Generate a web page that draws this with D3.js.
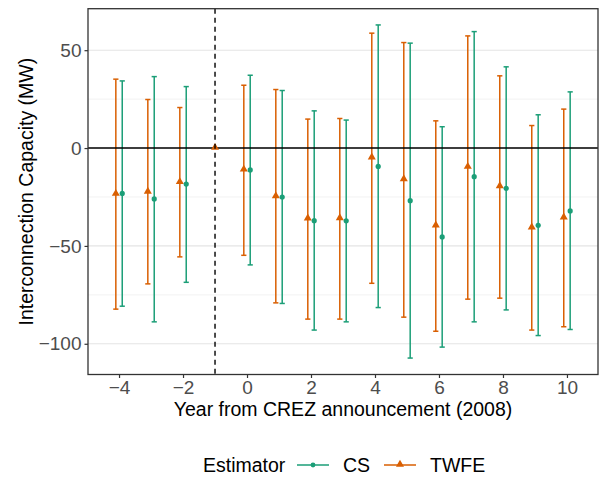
<!DOCTYPE html>
<html>
<head>
<meta charset="utf-8">
<script src="https://cdn.jsdelivr.net/npm/d3@7"></script>
<style>
  body { margin: 0; background: #fff; }
  svg { display: block; font-family: "Liberation Sans", Arial, sans-serif; }
</style>
</head>
<body>
<svg id="chart" width="605" height="479"></svg>
<script>
// Event-study estimates by year relative to the CREZ announcement
const csYears   = [-4, -3, -2, 0, 1, 2, 3, 4, 5, 6, 7, 8, 9, 10];
const csEst     = [-23.2, -26.0, -18.4, -11.2, -25.0, -37.1, -37.2, -9.4, -26.9, -45.4, -14.6, -20.6, -39.5, -32.1];
const csLow     = [-80.8, -88.8, -68.6, -59.7, -79.4, -93.0, -88.8, -81.5, -107.3, -101.7, -88.8, -82.7, -95.8, -92.7];
const csHigh    = [34.3, 36.5, 31.4, 37.2, 29.4, 19.0, 14.3, 62.9, 53.6, 10.9, 59.5, 41.5, 17.0, 28.7];

const twfeYears = [-4, -3, -2, -1, 0, 1, 2, 3, 4, 5, 6, 7, 8, 9, 10];
const twfeEst   = [-23.5, -22.4, -17.5, 0, -11.1, -24.7, -36.1, -35.9, -4.9, -16.0, -39.6, -9.7, -19.6, -40.7, -35.6];
const twfeLow   = [-82.3, -69.4, -55.6, null, -54.8, -79.1, -87.4, -87.4, -69.1, -86.4, -93.6, -77.2, -76.7, -93.0, -91.3];
const twfeHigh  = [35.2, 24.8, 20.7, null, 32.1, 29.9, 14.8, 15.1, 58.7, 53.9, 13.9, 57.3, 36.9, 11.5, 19.9];

const xTicks = [-4, -2, 0, 2, 4, 6, 8, 10];
const yTicks = [-100, -50, 0, 50];
const yMinor = [-75, -25, 25];
const refYear = -1;

const colors = { CS: "#1b9e77", TWFE: "#d95f02" };
const fontTick = "19px";
const fontTitle = "19.5px";

const svg = d3.select("#chart");
const panel = { left: 88, right: 598, top: 8.7, bottom: 374.5 };

const x = d3.scaleLinear().domain([-4.97, 10.97]).range([panel.left, panel.right]);
const y = d3.scaleLinear().domain([-115.7, 71.2]).range([panel.bottom, panel.top]);

// grid
const grid = svg.append("g");
grid.selectAll("line.minor").data(yMinor).join("line")
  .attr("x1", panel.left).attr("x2", panel.right)
  .attr("y1", d => y(d)).attr("y2", d => y(d))
  .attr("stroke", "#f0f0f0").attr("stroke-width", 0.9);
grid.selectAll("line.major").data(yTicks).join("line")
  .attr("x1", panel.left).attr("x2", panel.right)
  .attr("y1", d => y(d)).attr("y2", d => y(d))
  .attr("stroke", "#e4e4e4").attr("stroke-width", 1.1);

// series build
function rows(years, est, lo, hi, name) {
  return years.map((t, i) => ({ t, est: est[i], lo: lo[i], hi: hi[i], name }));
}
const cs = rows(csYears, csEst, csLow, csHigh, "CS");
const tw = rows(twfeYears, twfeEst, twfeLow, twfeHigh, "TWFE");
const csSet = new Set(csYears);
const dodge = 0.1;
function xpos(d) {
  if (d.name === "TWFE") return csSet.has(d.t) ? x(d.t - dodge) : x(d.t);
  return x(d.t + dodge);
}
const capHalf = 2.6;
const barW = 1.5;

function drawBars(data) {
  const g = svg.append("g");
  const bars = data.filter(d => d.lo != null);
  g.selectAll("line.v").data(bars).join("line")
    .attr("x1", xpos).attr("x2", xpos)
    .attr("y1", d => y(d.lo)).attr("y2", d => y(d.hi))
    .attr("stroke", d => colors[d.name]).attr("stroke-width", barW);
  g.selectAll("line.hi").data(bars).join("line")
    .attr("x1", d => xpos(d) - capHalf).attr("x2", d => xpos(d) + capHalf)
    .attr("y1", d => y(d.hi)).attr("y2", d => y(d.hi))
    .attr("stroke", d => colors[d.name]).attr("stroke-width", barW);
  g.selectAll("line.lo").data(bars).join("line")
    .attr("x1", d => xpos(d) - capHalf).attr("x2", d => xpos(d) + capHalf)
    .attr("y1", d => y(d.lo)).attr("y2", d => y(d.lo))
    .attr("stroke", d => colors[d.name]).attr("stroke-width", barW);
}
drawBars(tw);
drawBars(cs);

// zero reference
svg.append("line")
  .attr("x1", panel.left).attr("x2", panel.right)
  .attr("y1", y(0)).attr("y2", y(0))
  .attr("stroke", "#000").attr("stroke-width", 1.4);

// points
const triSym = d3.symbol().type(d3.symbolTriangle).size(28);
svg.append("g").selectAll("path").data(tw).join("path")
  .attr("d", triSym)
  .attr("transform", d => `translate(${xpos(d)},${y(d.est) - 0.5})`)
  .attr("fill", colors.TWFE);
svg.append("g").selectAll("circle").data(cs).join("circle")
  .attr("cx", xpos).attr("cy", d => y(d.est)).attr("r", 2.6)
  .attr("fill", colors.CS);

// announcement marker
svg.append("line")
  .attr("x1", x(refYear)).attr("x2", x(refYear))
  .attr("y1", panel.top).attr("y2", panel.bottom)
  .attr("stroke", "#000").attr("stroke-width", 1.4)
  .attr("stroke-dasharray", "5,4");

// panel border
svg.append("rect")
  .attr("x", panel.left).attr("y", panel.top)
  .attr("width", panel.right - panel.left).attr("height", panel.bottom - panel.top)
  .attr("fill", "none").attr("stroke", "#333").attr("stroke-width", 1.3);

// axes
const fmt = d => d < 0 ? "\u2212" + Math.abs(d) : d;
const xAxis = svg.append("g").attr("transform", `translate(0,${panel.bottom})`)
  .call(d3.axisBottom(x).tickValues(xTicks).tickSize(3.5).tickPadding(3).tickFormat(fmt));
const yAxis = svg.append("g").attr("transform", `translate(${panel.left},0)`)
  .call(d3.axisLeft(y).tickValues(yTicks).tickSize(3.5).tickPadding(3).tickFormat(fmt));
[xAxis, yAxis].forEach(a => {
  a.select(".domain").remove();
  a.selectAll(".tick line").attr("stroke", "#333").attr("stroke-width", 1.2);
  a.selectAll(".tick text").attr("fill", "#4d4d4d")
    .style("font-size", fontTick).style("font-family", "'Liberation Sans', Arial, sans-serif");
});

// axis titles
svg.append("text")
  .attr("x", (panel.left + panel.right) / 2).attr("y", 416)
  .attr("text-anchor", "middle").attr("fill", "#000")
  .style("font-size", fontTitle)
  .text("Year from CREZ announcement (2008)");
svg.append("text")
  .attr("transform", `translate(33,${(panel.top + panel.bottom) / 2}) rotate(-90)`)
  .attr("text-anchor", "middle").attr("fill", "#000")
  .style("font-size", fontTitle)
  .text("Interconnection Capacity (MW)");

// legend
const lg = svg.append("g").attr("transform", "translate(0,465)");
lg.append("text").attr("x", 203).attr("y", 7).style("font-size", fontTitle).text("Estimator");
const keys = [
  { name: "CS", x0: 297, tx: 343 },
  { name: "TWFE", x0: 384, tx: 430 }
];
keys.forEach(k => {
  lg.append("line").attr("x1", k.x0).attr("x2", k.x0 + 32).attr("y1", 0).attr("y2", 0)
    .attr("stroke", colors[k.name]).attr("stroke-width", barW);
  if (k.name === "CS") {
    lg.append("circle").attr("cx", k.x0 + 16).attr("cy", 0).attr("r", 2.4).attr("fill", colors.CS);
  } else {
    lg.append("path").attr("d", triSym).attr("transform", `translate(${k.x0 + 16},-0.5)`).attr("fill", colors.TWFE);
  }
  lg.append("text").attr("x", k.tx).attr("y", 7).style("font-size", fontTitle).text(k.name);
});
</script>
</body>
</html>
